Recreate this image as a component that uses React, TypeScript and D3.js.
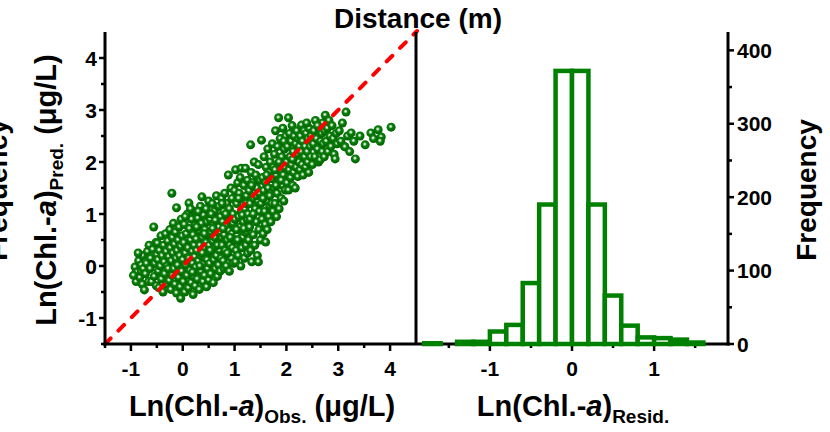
import React from "react";
import * as d3 from "d3";

// Scatter: observed vs predicted Ln(Chl.-a)
const scatterPoints: [number, number][] = [
  [-0.92,-0.02],[-0.9,-0.3],[-0.88,-0.12],[-0.85,0.1],[-0.83,-0.22],[-0.8,0.02],[-0.78,-0.35],[-0.77,0.2],[-0.8,-0.1],[-0.76,-0.05],[-0.95,-0.18],[-0.86,0.25],
  [-0.74,-0.46],[-0.72,-0.15],[-0.7,0.05],[-0.68,0.28],[-0.66,-0.3],[-0.65,0.4],[-0.63,-0.05],[-0.62,0.15],[-0.6,-0.3],[-0.58,0.32],[-0.56,0.75],[-0.55,-0.2],[-0.54,0.05],[-0.52,0.45],[-0.51,-0.38],[-0.5,0.22],
  [-0.49,0.44],[-0.48,0.12],[-0.47,-0.1],[-0.46,-0.42],[-0.45,0.3],[-0.43,0.0],[-0.42,0.58],[-0.41,-0.25],[-0.4,0.2],[-0.38,-0.5],[-0.37,0.4],[-0.36,0.08],[-0.35,-0.15],[-0.33,0.62],[-0.32,0.28],[-0.31,-0.35],[-0.3,0.0],[-0.29,0.48],[-0.28,-0.05],[-0.27,0.18],[-0.26,-0.28],[-0.25,0.7],
  [-0.24,0.35],[-0.23,-0.45],[-0.22,0.1],[-0.21,1.4],[-0.2,0.55],[-0.2,-0.18],[-0.19,0.25],[-0.18,0.82],[-0.17,-0.05],[-0.16,0.42],[-0.15,-0.35],[-0.14,0.65],[-0.13,0.15],[-0.12,1.12],[-0.12,-0.52],[-0.11,0.3],[-0.1,0.02],[-0.09,0.5],[-0.08,-0.22],[-0.07,0.75],[-0.06,0.2],[-0.05,-0.4],[-0.04,-0.62],[-0.04,0.38],[-0.03,0.9],[-0.02,-0.1],[-0.01,0.58],[0.0,0.12],
  [0.01,-0.3],[0.02,0.45],[0.03,0.8],[0.04,-0.5],[0.05,0.25],[0.06,0.02],[0.07,0.62],[0.08,-0.18],[0.09,1.0],[0.1,0.35],[0.11,-0.42],[0.12,1.21],[0.12,0.15],[0.13,0.72],[0.14,-0.08],[0.15,0.5],[0.16,-0.32],[0.17,0.9],[0.18,0.28],[0.19,0.05],[0.2,0.6],[0.2,-0.55],[0.21,-0.2],[0.22,0.4],[0.23,1.05],[0.23,0.18],[0.24,-0.38],[0.24,0.78],[0.25,-0.02],[0.05,0.95],[0.15,1.1],[0.19,-0.12],
  [0.26,0.52],[0.27,0.3],[0.28,-0.25],[0.29,0.92],[0.3,0.1],[0.31,0.68],[0.32,-0.45],[0.33,0.4],[0.34,1.15],[0.35,0.2],[0.35,-0.1],[0.36,0.82],[0.37,1.33],[0.38,0.55],[0.39,-0.3],[0.4,0.05],[0.4,0.98],[0.41,0.35],[0.42,-0.18],[0.43,0.7],[0.44,0.15],[0.45,1.1],[0.45,0.45],[0.46,-0.4],[0.47,0.85],[0.48,0.25],[0.48,-0.05],[0.49,0.6],[0.5,1.25],[0.5,-0.27],[0.3,1.05],[0.33,0.0],[0.38,0.25],[0.42,0.62],[0.47,0.12],[0.27,0.75],
  [0.51,0.4],[0.52,0.05],[0.53,0.9],[0.54,-0.15],[0.55,0.65],[0.56,0.25],[0.57,1.2],[0.58,0.48],[0.59,-0.32],[0.6,0.8],[0.6,0.12],[0.61,1.05],[0.62,0.35],[0.63,-0.05],[0.64,0.6],[0.65,1.35],[0.65,0.2],[0.66,0.9],[0.67,-0.2],[0.68,0.5],[0.69,0.02],[0.7,0.75],[0.7,1.15],[0.71,0.3],[0.72,-0.1],[0.73,0.95],[0.74,0.55],[0.74,0.15],[0.75,1.3],[0.55,1.0],[0.58,0.72],[0.62,0.55],[0.67,0.4],[0.72,0.65],[0.53,0.3],[0.63,0.88],
  [0.76,0.4],[0.77,0.85],[0.78,0.1],[0.79,1.05],[0.8,0.6],[0.8,-0.05],[0.81,1.4],[0.82,0.3],[0.83,0.78],[0.84,0.0],[0.85,1.2],[0.86,0.5],[0.87,0.95],[0.88,1.75],[0.88,0.2],[0.89,0.68],[0.9,1.1],[0.9,-0.1],[0.91,0.4],[0.92,0.88],[0.93,1.5],[0.94,0.15],[0.95,0.62],[0.95,1.3],[0.96,0.35],[0.97,1.0],[0.98,0.05],[0.99,0.75],[1.0,1.45],[1.0,0.5],[0.78,0.72],[0.83,1.0],[0.86,0.25],[0.92,0.55],[0.97,0.82],[0.76,1.2],
  [1.01,0.9],[1.02,0.08],[1.02,1.85],[1.03,0.3],[1.04,1.2],[1.05,0.6],[1.06,1.6],[1.07,0.2],[1.08,0.95],[1.09,1.4],[1.1,0.45],[1.1,0.75],[1.11,1.7],[1.12,0.0],[1.13,1.88],[1.13,1.05],[1.14,0.35],[1.15,1.3],[1.16,0.55],[1.17,0.85],[1.18,1.55],[1.19,0.15],[1.2,1.1],[1.21,1.88],[1.21,0.65],[1.22,0.4],[1.23,1.35],[1.24,0.9],[1.25,1.65],[1.25,0.25],[1.04,0.7],[1.08,1.3],[1.15,0.98],[1.18,0.72],[1.22,1.2],[1.06,0.5],
  [1.26,1.0],[1.27,0.5],[1.28,1.45],[1.29,0.75],[1.3,1.2],[1.31,2.33],[1.31,0.3],[1.32,1.8],[1.33,0.08],[1.34,0.95],[1.35,1.6],[1.36,0.6],[1.37,1.3],[1.38,2.0],[1.39,0.4],[1.4,1.1],[1.41,1.75],[1.42,0.85],[1.43,1.5],[1.44,0.2],[1.45,1.25],[1.46,0.08],[1.46,1.95],[1.47,0.7],[1.48,1.05],[1.49,1.65],[1.5,0.5],[1.3,0.9],[1.36,1.0],[1.42,1.35],[1.48,1.4],[1.33,1.55],
  [1.51,1.2],[1.52,2.42],[1.53,0.9],[1.54,1.7],[1.55,0.62],[1.56,1.45],[1.57,2.1],[1.58,1.05],[1.59,0.8],[1.6,0.46],[1.6,1.6],[1.61,1.9],[1.62,1.25],[1.63,0.7],[1.64,2.25],[1.65,1.5],[1.66,0.95],[1.67,1.8],[1.68,1.15],[1.69,2.0],[1.7,0.85],[1.71,1.4],[1.72,1.68],[1.73,2.35],[1.74,1.05],[1.75,1.9],[1.55,1.3],[1.62,1.75],[1.68,1.35],[1.72,1.2],
  [1.76,1.5],[1.77,2.15],[1.78,1.2],[1.79,2.6],[1.8,1.75],[1.81,0.95],[1.82,1.4],[1.83,2.3],[1.84,1.95],[1.85,2.85],[1.86,1.1],[1.87,1.6],[1.88,2.45],[1.89,1.85],[1.9,1.3],[1.91,2.1],[1.92,1.55],[1.93,2.65],[1.94,1.75],[1.95,1.25],[1.96,2.25],[1.97,1.9],[1.98,1.46],[1.99,2.5],[2.0,2.0],[1.8,1.55],[1.86,2.0],[1.9,1.65],[1.95,2.4],[1.78,1.85],
  [2.01,1.6],[2.02,2.3],[2.04,2.85],[2.04,1.46],[2.05,1.85],[2.06,2.55],[2.07,2.1],[2.08,1.7],[2.09,2.4],[2.1,1.95],[2.11,2.7],[2.12,1.55],[2.13,2.2],[2.14,1.8],[2.15,2.5],[2.16,2.05],[2.17,1.5],[2.18,2.35],[2.19,1.9],[2.2,2.6],[2.21,2.15],[2.22,1.72],[2.23,2.45],[2.24,2.0],[2.25,2.3],[2.12,2.05],
  [2.26,1.85],[2.27,2.5],[2.28,2.2],[2.29,2.71],[2.3,1.95],[2.31,2.4],[2.32,1.75],[2.34,2.6],[2.35,2.1],[2.36,2.3],[2.37,1.9],[2.38,2.55],[2.4,2.2],[2.41,2.0],[2.42,2.45],[2.43,1.8],[2.44,2.65],[2.46,2.3],[2.47,2.1],[2.48,2.5],[2.5,1.95],[2.39,2.75],
  [2.52,2.35],[2.53,2.6],[2.55,2.1],[2.56,2.8],[2.58,2.45],[2.6,2.25],[2.62,2.0],[2.63,2.65],[2.65,2.04],[2.66,2.4],[2.68,2.55],[2.69,2.2],[2.7,2.75],[2.71,2.35],[2.73,2.1],[2.74,2.6],[2.75,2.9],[2.6,2.7],
  [2.77,2.4],[2.79,2.65],[2.8,2.2],[2.82,2.8],[2.84,2.5],[2.86,2.3],[2.88,2.7],[2.9,2.45],[2.92,2.15],[2.94,2.06],[2.96,2.55],[2.98,2.35],
  [3.02,2.6],[3.05,2.4],[3.08,2.75],[3.12,2.3],[3.13,2.29],[3.15,2.96],[3.18,2.5],[3.22,2.2],[3.25,2.56],[3.33,2.06],[3.3,2.4],[3.42,2.5],
  [3.52,2.33],[3.63,2.56],[3.77,2.62],[3.83,2.48],[3.81,2.4],[4.02,2.67],[3.68,2.45],
];

// Histogram of residuals
const binStarts = [-1.8,-1.6,-1.4,-1.2,-1.0,-0.8,-0.6,-0.4,-0.2,0.0,0.2,0.4,0.6,0.8,1.0,1.2,1.4];
const binCounts = [1,0,3,3,17,26,83,190,372,372,190,66,25,9,8,6,2];
const binWidth = 0.2;

const leftTicks = [-1, 0, 1, 2, 3, 4];
const leftMinor = [-1.5, -0.5, 0.5, 1.5, 2.5, 3.5];
const residTicks = [-1, 0, 1];
const residMinor = [-1.5, -0.5, 0.5, 1.5];
const freqTicks = [0, 100, 200, 300, 400];
const freqMinor = [50, 150, 250, 350];

const FONT = "'Liberation Sans', Arial, sans-serif";
const GREEN = "#008000";

export default function App() {
  const left = 105, mid = 416, right = 728, top = 32, bottom = 344;
  const xL = d3.scaleLinear().domain([-1.5, 4.5]).range([left, mid]);
  const yL = d3.scaleLinear().domain([-1.5, 4.5]).range([bottom, top]);
  const xR = d3.scaleLinear().domain([-1.9, 1.9]).range([mid, right]);
  const yR = d3.scaleLinear().domain([0, 425]).range([bottom, top]);
  const lw = 3;
  const tickFont = 21;
  const fmt = (t: number) => (t < 0 ? "-" + Math.abs(t) : String(t));

  return (
    <svg width={830} height={432} style={{ position: "absolute", left: 0, top: 0, background: "#fff" }} fontFamily={FONT}>
      <defs>
        <radialGradient id="ball" cx="45%" cy="42%" r="55%">
          <stop offset="0%" stopColor="#ffffff" />
          <stop offset="18%" stopColor="#b8dcb8" />
          <stop offset="42%" stopColor="#0c820c" />
          <stop offset="100%" stopColor="#006200" />
        </radialGradient>
      </defs>

      {/* scatter points */}
      <g>
        {scatterPoints.map(([x, y], i) => (
          <circle key={i} cx={xL(x)} cy={yL(y)} r={4.5} fill="url(#ball)" />
        ))}
      </g>

      {/* 1:1 line */}
      <line x1={xL(-1.5)} y1={yL(-1.5)} x2={xL(4.5) + 1} y2={yL(4.5) - 1} stroke="#ff0000" strokeWidth={4}
        strokeDasharray="8 11" strokeLinecap="round" />

      {/* axes lines */}
      <g stroke="#000" strokeWidth={lw} fill="none">
        <line x1={left} y1={top} x2={left} y2={bottom + 1.5} />
        <line x1={left - 1.5} y1={bottom} x2={right + 1.5} y2={bottom} />
        <line x1={mid} y1={top} x2={mid} y2={bottom} />
        <line x1={right} y1={top} x2={right} y2={bottom + 1.5} />
        {leftTicks.map((t) => <line key={"ly" + t} x1={left - 6} x2={left} y1={yL(t)} y2={yL(t)} strokeWidth={2.5} />)}
        {leftMinor.map((t) => <line key={"lym" + t} x1={left - 4} x2={left} y1={yL(t)} y2={yL(t)} strokeWidth={2.5} />)}
        {leftTicks.map((t) => <line key={"lx" + t} y1={bottom} y2={bottom + 7} x1={xL(t)} x2={xL(t)} strokeWidth={2.5} />)}
        {leftMinor.map((t) => <line key={"lxm" + t} y1={bottom} y2={bottom + 4} x1={xL(t)} x2={xL(t)} strokeWidth={2.5} />)}
        {residTicks.map((t) => <line key={"rx" + t} y1={bottom} y2={bottom + 7} x1={xR(t)} x2={xR(t)} strokeWidth={2.5} />)}
        {residMinor.map((t) => <line key={"rxm" + t} y1={bottom} y2={bottom + 4} x1={xR(t)} x2={xR(t)} strokeWidth={2.5} />)}
        {freqTicks.map((t) => <line key={"ry" + t} x1={right} x2={right + 6} y1={yR(t)} y2={yR(t)} strokeWidth={2.5} />)}
        {freqMinor.map((t) => <line key={"rym" + t} x1={right} x2={right + 4} y1={yR(t)} y2={yR(t)} strokeWidth={2.5} />)}
      </g>

      {/* histogram bars */}
      <g fill="#fff" stroke={GREEN} strokeWidth={4.5}>
        {binStarts.map((b, i) =>
          binCounts[i] > 0 ? (
            <rect key={i} x={xR(b)} width={xR(b + binWidth) - xR(b)} y={yR(binCounts[i])} height={yR(0) - yR(binCounts[i])} />
          ) : null
        )}
      </g>

      {/* tick labels */}
      <g fontSize={tickFont} fontWeight="bold" fill="#000">
        {leftTicks.map((t) => (
          <text key={"lyl" + t} x={left - 8} y={yL(t)} dy="0.36em" textAnchor="end">{fmt(t)}</text>
        ))}
        {leftTicks.map((t) => (
          <text key={"lxl" + t} x={xL(t)} y={376} textAnchor="middle">{fmt(t)}</text>
        ))}
        {residTicks.map((t) => (
          <text key={"rxl" + t} x={xR(t)} y={376} textAnchor="middle">{fmt(t)}</text>
        ))}
        {freqTicks.map((t) => (
          <text key={"ryl" + t} x={right + 9} y={yR(t)} dy="0.36em" textAnchor="start">{t}</text>
        ))}
      </g>

      {/* titles */}
      <g fontWeight="bold" fill="#000">
        <text x={418} y={28} fontSize={28} textAnchor="middle">Distance (m)</text>
        <text x={262} y={416} fontSize={29} textAnchor="middle">
          Ln(Chl.-<tspan fontStyle="italic">a</tspan>)<tspan fontSize={19} dy={7}>Obs.</tspan><tspan dy={-7}> (μg/L)</tspan>
        </text>
        <text x={573} y={416} fontSize={29} textAnchor="middle">
          Ln(Chl.-<tspan fontStyle="italic">a</tspan>)<tspan fontSize={19} dy={7}>Resid.</tspan>
        </text>
        <text transform="translate(56,190) rotate(-90)" fontSize={29} textAnchor="middle">
          Ln(Chl.-<tspan fontStyle="italic">a</tspan>)<tspan fontSize={19} dy={7}>Pred.</tspan><tspan dy={-7}> (μg/L)</tspan>
        </text>
        <text transform="translate(816,190) rotate(-90)" fontSize={28} textAnchor="middle">Frequency</text>
        <text transform="translate(7,190) rotate(-90)" fontSize={28} textAnchor="middle">Frequency</text>
      </g>
    </svg>
  );
}
